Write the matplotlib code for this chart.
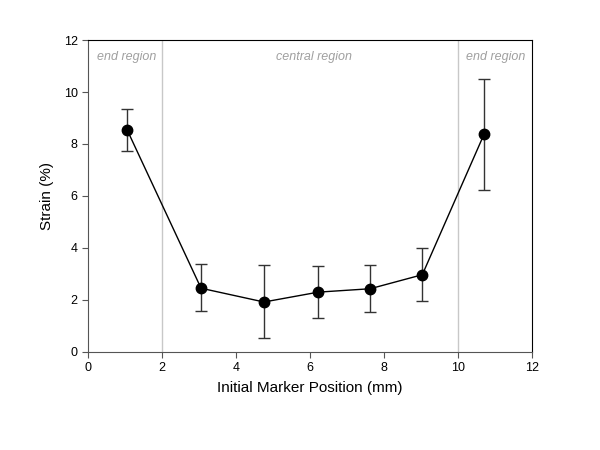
import matplotlib.pyplot as plt

plt.rcParams['font.family'] = ['Liberation Sans', 'DejaVu Sans']

# marker positions (mm) and strain (%)
position = [1.05, 3.05, 4.75, 6.22, 7.62, 9.03, 10.7]
strain = [8.55, 2.45, 1.92, 2.3, 2.43, 2.97, 8.38]
err_low = [7.72, 1.58, 0.52, 1.3, 1.55, 1.97, 6.22]
err_high = [9.35, 3.38, 3.33, 3.3, 3.33, 3.98, 10.52]

region_bounds = [2, 10]
region_labels = ['end region', 'central region', 'end region']
region_label_x = [1.05, 6.1, 11.0]

yerr = [[s - lo for s, lo in zip(strain, err_low)],
        [hi - s for s, hi in zip(strain, err_high)]]

fig = plt.figure(figsize=(6, 4.5), dpi=100)
ax = fig.add_axes([0.147, 0.218, 0.74, 0.693])

for b in region_bounds:
    ax.axvline(b, color='#c8c8c8', linewidth=1, zorder=0)
for lx, lab in zip(region_label_x, region_labels):
    ax.text(lx, 11.35, lab, ha='center', va='center', style='italic',
            color='#a0a0a0', fontsize=9)

ax.errorbar(position, strain, yerr=yerr, fmt='-o', color='black',
            markersize=7.5, linewidth=1, elinewidth=1, capsize=4.5,
            ecolor='#333333')

ax.set_xlim(0, 12)
ax.set_ylim(0, 12)
ax.set_xticks(range(0, 13, 2))
ax.set_yticks(range(0, 13, 2))
ax.tick_params(direction='out', length=4, labelsize=9, top=False, right=False,
               color='#555555')
for side in ['left', 'bottom']:
    ax.spines[side].set_color('#555555')
ax.set_xlabel('Initial Marker Position (mm)', fontsize=11, labelpad=5)
ax.set_ylabel('Strain (%)', fontsize=11, labelpad=7)

fig.savefig('out.png', dpi=100)
